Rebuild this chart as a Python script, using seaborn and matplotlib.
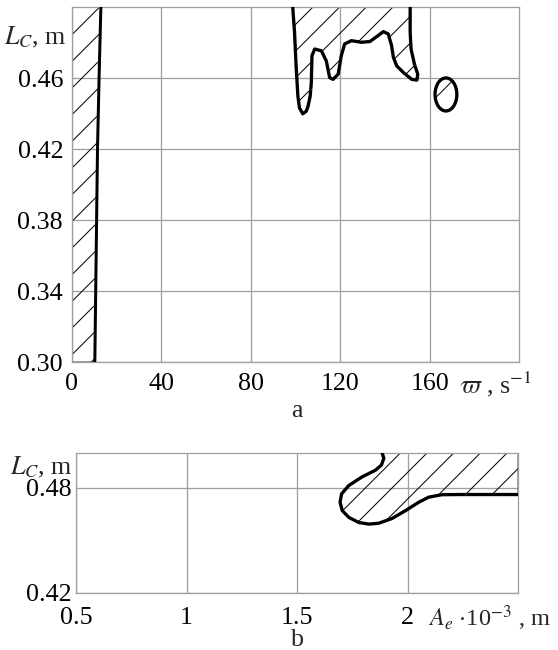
import numpy as np
import pandas as pd
import matplotlib
matplotlib.use("Agg")
import matplotlib.pyplot as plt
from matplotlib.patches import Ellipse
import seaborn as sns

# ---------------- data ----------------
# panel a: omega (s^-1) vs L_C (m)
a_xticks = [0, 40, 80, 120, 160]
a_yticks = [0.30, 0.34, 0.38, 0.42, 0.46]
a_xlim = (0, 200)
a_ylim = (0.30, 0.50)

# left stability boundary (region to the left is hatched)
left_y = [0.30, 0.34, 0.38, 0.42, 0.46, 0.50]
left_x = [10.2, 10.6, 11.0, 11.4, 12.1, 12.9]

# upper region boundary (hatched region above the curve, up to top edge)
blob_x = [98.7, 99.5, 100.2, 101.0, 101.7, 103.2, 104.7, 105.5, 106.5, 107.0, 107.3, 108.5,
          111.5, 113.7, 115.2, 116.7, 119.0, 120.4, 121.9, 124.9, 129.4, 133.2,
          136.9, 139.2, 141.4, 142.9, 143.7, 145.2, 148.2, 151.9, 154.2, 154.6,
          153.1, 151.6, 151.2, 151.2]
blob_y = [0.500, 0.486, 0.467, 0.450, 0.4433, 0.440, 0.4414, 0.444, 0.450, 0.4576, 0.4727, 0.4765,
          0.4755, 0.4698, 0.4604, 0.4594, 0.4623, 0.4727, 0.4793, 0.4812, 0.4803, 0.4807,
          0.4841, 0.4863, 0.4850, 0.4784, 0.4718, 0.4670, 0.4632, 0.4594, 0.4590, 0.4623,
          0.4680, 0.4765, 0.486, 0.500]

# small closed island
island_center = (167.2, 0.4509)
island_size = (9.75, 0.0186)

# panel b: A_e*10^-3 (m) vs L_C (m)
b_xticks = [0.5, 1, 1.5, 2]
b_xticklabels = ["0.5", "1", "1.5", "2"]
b_yticks = [0.42, 0.48]
b_xlim = (0.5, 2.5)
b_ylim = (0.42, 0.50)

bb_x = [1.884, 1.892, 1.881, 1.854, 1.794, 1.734, 1.701, 1.694, 1.704, 1.734, 1.779,
        1.824, 1.869, 1.929, 1.990, 2.050, 2.095, 2.155, 2.245, 2.500]
bb_y = [0.500, 0.4968, 0.4929, 0.4900, 0.4862, 0.4813, 0.4765, 0.4717, 0.4669, 0.4630,
        0.4601, 0.4592, 0.4597, 0.4624, 0.4669, 0.4717, 0.4746, 0.4760, 0.4761, 0.4761]

# ---------------- style ----------------
DPI = 80

def P(pixels):
    return pixels * 72.0 / DPI

sns.set_theme(style="white")
plt.rcParams["font.family"] = ["Liberation Serif", "DejaVu Serif"]
plt.rcParams["mathtext.fontset"] = "stix"
plt.rcParams["hatch.linewidth"] = P(1.0)

FS = P(26)
GRID = "#a0a0a0"

fig = plt.figure(figsize=(558 / DPI, 650 / DPI), dpi=DPI)
fig.patch.set_facecolor("white")

def px(x, y):
    return x / 558, 1 - y / 650

axA = fig.add_axes([72 / 558, 1 - 362.3 / 650, (519.3 - 72) / 558, (362.3 - 7.3) / 650])
axB = fig.add_axes([76 / 558, 1 - 592.7 / 650, (518.3 - 76) / 558, (592.7 - 452.7) / 650])

for ax in (axA, axB):
    ax.set_facecolor("white")
    for s in ax.spines.values():
        s.set_color(GRID)
        s.set_linewidth(P(1.3))
    ax.grid(True, color=GRID, linewidth=P(1.3))
    ax.set_axisbelow(True)
    ax.tick_params(length=0, labelsize=FS, colors="black")

# ---- panel a ----
strip_x = left_x + [0, 0]
strip_y = left_y + [a_ylim[1], a_ylim[0]]
axA.fill(strip_x, strip_y, facecolor="none", edgecolor="black", hatch="/",
         linewidth=P(1.3), zorder=2)
sns.lineplot(x=left_x, y=left_y, sort=False, estimator=None, ax=axA,
             color="black", linewidth=P(3.0), zorder=3)

axA.fill(blob_x, blob_y, facecolor="none", edgecolor="black", hatch="/",
         linewidth=P(1.3), zorder=2)
sns.lineplot(x=blob_x, y=blob_y, sort=False, estimator=None, ax=axA,
             color="black", linewidth=P(3.3), zorder=3)

axA.add_patch(Ellipse(island_center, island_size[0], island_size[1], facecolor="none",
                      edgecolor="black", hatch="/", linewidth=P(3.3), zorder=3))

axA.set_xlim(*a_xlim)
axA.set_ylim(*a_ylim)
axA.set_xticks(a_xticks)
axA.set_xticklabels([str(v) for v in a_xticks])
axA.set_yticks(a_yticks)
axA.set_yticklabels([f"{v:.2f}" for v in a_yticks])
axA.tick_params(axis="x", pad=P(10.2))
axA.tick_params(axis="y", pad=P(8.9))
axA.set_xlabel("")
axA.set_ylabel("")

# ---- panel b ----
bpoly_x = bb_x + [b_xlim[1]]
bpoly_y = bb_y + [b_ylim[1]]
axB.fill(bpoly_x, bpoly_y, facecolor="none", edgecolor="black", hatch="/",
         linewidth=P(1.3), zorder=2)
sns.lineplot(x=bb_x, y=bb_y, sort=False, estimator=None, ax=axB,
             color="black", linewidth=P(3.3), zorder=3)

axB.set_xlim(*b_xlim)
axB.set_ylim(*b_ylim)
axB.set_xticks(b_xticks)
axB.set_xticklabels(b_xticklabels)
axB.set_yticks(b_yticks)
axB.set_yticklabels([f"{v:.2f}" for v in b_yticks])
axB.tick_params(axis="x", pad=P(13.8))
axB.tick_params(axis="y", pad=P(4.4))
axB.set_xlabel("")
axB.set_ylabel("")

# ---- texts ----
fig.text(*px(67, 44), r"$L_C$, m", ha="right", va="baseline", fontsize=FS)
fig.text(*px(73, 474), r"$L_C$, m", ha="right", va="baseline", fontsize=FS)
fig.text(*px(459, 393), r"$\varpi$ , s$^{-1}$", ha="left", va="baseline", fontsize=FS)
fig.text(*px(428, 626), r"$A_e$ $\cdot$10$^{-3}$ , m", ha="left", va="baseline",
         fontsize=FS * 0.94)
fig.text(*px(297, 417), "a", ha="center", va="baseline", fontsize=FS)
fig.text(*px(297, 646), "b", ha="center", va="baseline", fontsize=FS)

fig.savefig("out.png", dpi=DPI, facecolor="white")
